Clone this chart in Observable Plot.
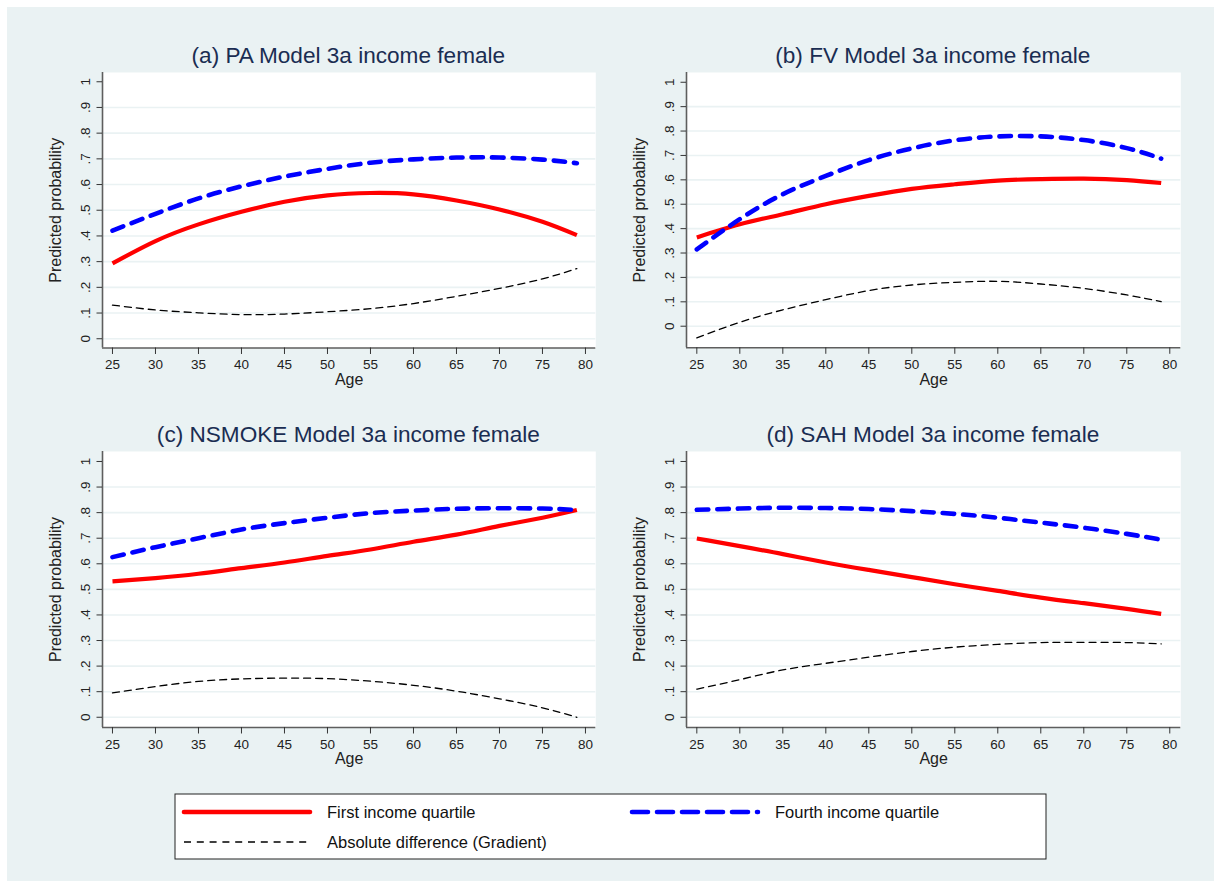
<!DOCTYPE html>
<html>
<head>
<meta charset="utf-8">
<script src="https://cdn.jsdelivr.net/npm/d3@7"></script>
<script src="https://cdn.jsdelivr.net/npm/@observablehq/plot@0.6"></script>
<style>
  html, body { margin: 0; padding: 0; background: #ffffff; }
  body { width: 1214px; height: 881px; position: relative; overflow: hidden;
         font-family: "Liberation Sans", Arial, sans-serif; }
  #bg { position: absolute; left: 7px; top: 7px; width: 1207px; height: 874px; background: #EAF2F3; }
  .panel { position: absolute; }
  .title { position: absolute; font-size: 22.6px; line-height: 22px; color: #1a2d52;
           white-space: nowrap; transform: translateX(-50%); }
  #legend { position: absolute; left: 0; top: 0; }
</style>
</head>
<body>
<div id="bg"></div>
<script>
// Age grid shared by all four panels
const ages = [25, 30, 35, 40, 45, 50, 55, 60, 65, 70, 75, 79];

// (a) PA
const paFirst  = [0.293, 0.380, 0.445, 0.494, 0.533, 0.558, 0.567, 0.562, 0.538, 0.503, 0.455, 0.403];
const paFourth = [0.421, 0.486, 0.546, 0.593, 0.631, 0.661, 0.685, 0.698, 0.705, 0.705, 0.697, 0.683];
const paGap    = [0.131, 0.112, 0.101, 0.094, 0.096, 0.105, 0.117, 0.137, 0.165, 0.196, 0.233, 0.273];

// (b) FV
const fvFirst  = [0.364, 0.418, 0.459, 0.500, 0.534, 0.563, 0.582, 0.597, 0.603, 0.605, 0.599, 0.587];
const fvFourth = [0.315, 0.439, 0.541, 0.616, 0.681, 0.729, 0.762, 0.778, 0.778, 0.763, 0.730, 0.687];
const fvGap    = [-0.048, 0.016, 0.067, 0.109, 0.146, 0.169, 0.180, 0.184, 0.173, 0.155, 0.128, 0.101];

// (c) NSMOKE
const nsFirst  = [0.531, 0.544, 0.561, 0.583, 0.605, 0.631, 0.656, 0.686, 0.714, 0.748, 0.780, 0.810];
const nsFourth = [0.626, 0.665, 0.700, 0.734, 0.759, 0.780, 0.798, 0.808, 0.815, 0.817, 0.816, 0.810];
const nsGap    = [0.095, 0.120, 0.140, 0.150, 0.153, 0.151, 0.141, 0.125, 0.102, 0.072, 0.037, 0.000];

// (d) SAH
const sahFirst  = [0.699, 0.669, 0.638, 0.605, 0.576, 0.548, 0.520, 0.494, 0.468, 0.446, 0.424, 0.404];
const sahFourth = [0.811, 0.816, 0.819, 0.818, 0.814, 0.806, 0.795, 0.780, 0.761, 0.741, 0.717, 0.694];
const sahGap    = [0.110, 0.147, 0.185, 0.211, 0.235, 0.257, 0.274, 0.285, 0.292, 0.293, 0.292, 0.287];

// Axis ticks and labels
const xTicks = [25, 30, 35, 40, 45, 50, 55, 60, 65, 70, 75, 80];
const yTicks = [0, 0.1, 0.2, 0.3, 0.4, 0.5, 0.6, 0.7, 0.8, 0.9, 1];
const yTickLabels = ["0", ".1", ".2", ".3", ".4", ".5", ".6", ".7", ".8", ".9", "1"];
const gridTicks = [0, 0.1, 0.2, 0.3, 0.4, 0.5, 0.6, 0.7, 0.8, 0.9];

const seriesNames = ["First income quartile", "Fourth income quartile", "Absolute difference (Gradient)"];
const titles = [
  "(a) PA Model 3a income female",
  "(b) FV Model 3a income female",
  "(c) NSMOKE Model 3a income female",
  "(d) SAH Model 3a income female"
];

const RED = "#ff0000", BLUE = "#0000ff", BLACK = "#000000", BG = "#EAF2F3";

// Plot box (page pixels) and scale domains for each panel
const panels = [
  {title: titles[0], first: paFirst, fourth: paFourth, gap: paGap,
   box: {x0: 101.7, x1: 595, y0: 72, y1: 347.5}, xDomain: [23.84, 81.2], yDomain: [-0.036, 1.036]},
  {title: titles[1], first: fvFirst, fourth: fvFourth, gap: fvGap,
   box: {x0: 685.7, x1: 1180, y0: 72, y1: 347.3}, xDomain: [23.8, 81.28], yDomain: [-0.0885, 1.04]},
  {title: titles[2], first: nsFirst, fourth: nsFourth, gap: nsGap,
   box: {x0: 101.7, x1: 595, y0: 451, y1: 727}, xDomain: [23.84, 81.2], yDomain: [-0.04, 1.039]},
  {title: titles[3], first: sahFirst, fourth: sahFourth, gap: sahGap,
   box: {x0: 685.7, x1: 1180, y0: 451, y1: 727}, xDomain: [23.8, 81.28], yDomain: [-0.04, 1.039]}
];

const ML = 100, MR = 15, MT = 20, MB = 50;

function rows(values) {
  return ages.map((a, i) => ({age: a, value: values[i]}));
}

for (const p of panels) {
  const {x0, x1, y0, y1} = p.box;
  const W = x1 - x0 + ML + MR;
  const H = y1 - y0 + MT + MB;
  // age value sitting a given number of pixels left of the plot's left edge
  const pxPerYear = (x1 - x0) / (p.xDomain[1] - p.xDomain[0]);
  const ageLeftOf = (px) => p.xDomain[0] - px / pxPerYear;
  const yMid = (p.yDomain[0] + p.yDomain[1]) / 2;

  const chart = Plot.plot({
    width: W,
    height: H,
    marginLeft: ML, marginRight: MR, marginTop: MT, marginBottom: MB,
    x: {domain: p.xDomain},
    y: {domain: p.yDomain},
    style: {background: "transparent", fontFamily: "'Liberation Sans', Arial, sans-serif", fontSize: "13.5px", color: "#222", overflow: "visible"},
    marks: [
      Plot.frame({fill: "white", stroke: "none"}),
      Plot.ruleY(gridTicks, {stroke: BG, strokeWidth: 1.6}),
      Plot.ruleX([p.xDomain[0]], {stroke: "#5e5e5e", strokeWidth: 1.6}),
      Plot.ruleY([p.yDomain[0]], {stroke: "#5e5e5e", strokeWidth: 1.6}),
      Plot.axisX({ticks: xTicks, tickSize: 6.5, tickPadding: 5, label: null, stroke: "#333", fill: "#222", fontSize: 13.5}),
      Plot.axisY({ticks: yTicks, tickSize: 5.5, tickFormat: () => "", label: null, stroke: "#333"}),
      Plot.text(yTicks, {x: () => ageLeftOf(16.7), y: d => d, text: (d, i) => yTickLabels[i], rotate: -90, fill: "#222", fontSize: 13.5}),
      Plot.text(["Predicted probability"], {x: () => ageLeftOf(46.7), y: () => yMid, rotate: -90, fill: "#222", fontSize: 16}),
      Plot.text(["Age"], {frameAnchor: "bottom", dy: 37, fill: "#222", fontSize: 16}),
      Plot.line(rows(p.first), {x: "age", y: "value", stroke: RED, strokeWidth: 4.2, curve: "natural", strokeLinecap: "butt"}),
      Plot.line(rows(p.fourth), {x: "age", y: "value", stroke: BLUE, strokeWidth: 4.6, curve: "natural", strokeLinecap: "round", strokeDasharray: "11.5,9"}),
      Plot.line(rows(p.gap), {x: "age", y: "value", stroke: BLACK, strokeWidth: 1.3, curve: "natural", strokeDasharray: "7,5"})
    ]
  });
  chart.classList.add("panel");
  chart.style.left = (x0 - ML) + "px";
  chart.style.top = (y0 - MT) + "px";
  chart.style.position = "absolute";
  document.body.appendChild(chart);

  const t = document.createElement("div");
  t.className = "title";
  t.textContent = p.title;
  t.style.left = ((x0 + x1) / 2) + "px";
  t.style.top = (y0 - 27) + "px";
  document.body.appendChild(t);
}

// Legend box below the panels
const legend = d3.select("body").append("svg")
  .attr("id", "legend")
  .attr("width", 1214).attr("height", 881)
  .style("position", "absolute").style("left", "0px").style("top", "0px")
  .style("pointer-events", "none");

legend.append("rect")
  .attr("x", 175).attr("y", 794).attr("width", 871).attr("height", 65)
  .attr("fill", "white").attr("stroke", "#222").attr("stroke-width", 1);

const legendItems = [
  {name: seriesNames[0], x: 184, y: 812, stroke: RED, width: 4.6, dash: null, cap: "round"},
  {name: seriesNames[1], x: 632, y: 812, stroke: BLUE, width: 4.6, dash: "16,9", cap: "round"},
  {name: seriesNames[2], x: 184, y: 842, stroke: BLACK, width: 1.3, dash: "7,5.8", cap: "butt"}
];

for (const it of legendItems) {
  legend.append("line")
    .attr("x1", it.x).attr("x2", it.x + 126)
    .attr("y1", it.y).attr("y2", it.y)
    .attr("stroke", it.stroke).attr("stroke-width", it.width)
    .attr("stroke-linecap", it.cap)
    .attr("stroke-dasharray", it.dash);
  legend.append("text")
    .attr("x", it.x + 143).attr("y", it.y + 6)
    .attr("font-family", "'Liberation Sans', Arial, sans-serif")
    .attr("font-size", 16.5).attr("fill", "#111")
    .text(it.name);
}
</script>
</body>
</html>
